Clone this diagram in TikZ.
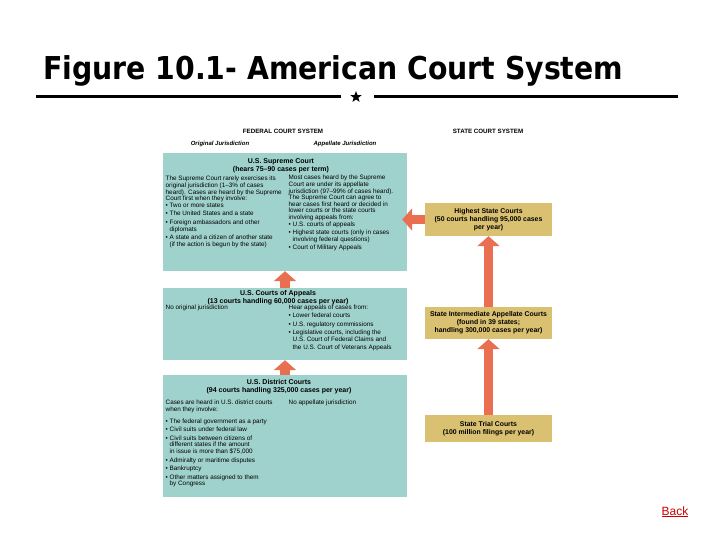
\documentclass[tikz,border=0pt]{standalone}
\usepackage{fontspec}
\setmainfont{Liberation Sans}
\newfontfamily\titlefont{DejaVu Sans}
\usetikzlibrary{arrows.meta,shapes.geometric}
\definecolor{fedteal}{RGB}{160,210,205}
\definecolor{statetan}{RGB}{218,193,113}
\definecolor{arroworange}{RGB}{233,111,80}
\definecolor{backred}{RGB}{204,0,0}
\newcommand\tinyfs{\fontsize{6.35}{6.6}\selectfont}
\newcommand\hdfs{\fontsize{7}{7.8}\selectfont\bfseries}
\newcommand\statefs{\fontsize{6.9}{8}\selectfont\bfseries}
\newcommand\bul{\textbullet\ }
\newcommand\ind{\phantom{\textbullet\ }}
\begin{document}
\begin{tikzpicture}[x=1pt,y=-1pt,
  fedbox/.style={rectangle, fill=fedteal, inner sep=0, minimum width=244pt},
  statebox/.style={rectangle, fill=statetan, inner sep=0, minimum width=127pt, align=center, font=\statefs},
  col/.style={anchor=north west, inner sep=0, align=left, font=\tinyfs},
  ttl/.style={anchor=north, inner sep=0, align=center, font=\hdfs},
  hdr/.style={anchor=base, inner sep=0, font=\fontsize{6.2}{6.5}\selectfont\bfseries},
  subhdr/.style={anchor=base, inner sep=0, font=\fontsize{6}{6.5}\selectfont\bfseries\itshape},
  blockarrow/.style={draw=arroworange, line width=9.5pt, -{Triangle[width=22pt,length=10pt]}},
  rule/.style={line width=3pt}]
\useasboundingbox (0,0) rectangle (720,540);

% title
\node[anchor=base west, inner sep=0] (title) at (43,80)
  {\resizebox{580pt}{\height}{\titlefont\fontsize{31.5}{32}\selectfont\bfseries Figure 10.1- American Court System}};
\node[star, star points=5, star point ratio=2.4, fill=black, inner sep=0, minimum size=12pt] (star) at (356,97) {};
\coordinate (ruleL) at (36,97);
\coordinate (ruleR) at (678,97);
\draw[rule] (ruleL) -- ([xshift=-15pt]star.center);
\draw[rule] ([xshift=18pt]star.center) -- (ruleR);

% headers
\node[hdr] (fedhdr) at (283,134) {FEDERAL COURT SYSTEM};
\node[subhdr] (orighdr) at (220,146) {Original Jurisdiction};
\node[subhdr] (apphdr) at (345,146) {Appellate Jurisdiction};
\node[hdr] (statehdr) at (488,134) {STATE COURT SYSTEM};

% federal boxes
\node[fedbox, minimum height=118pt] (supreme) at (285,212) {};
\node[fedbox, minimum height=72pt] (appeals) at (285,324) {};
\node[fedbox, minimum height=122pt] (district) at (285,436) {};

% supreme court text
\node[ttl] (supT) at (281,158.5) {U.S. Supreme Court\\(hears 75--90 cases per term)};
\node[col] (supL) at (165.5,176) {The Supreme Court rarely exercises its\\
original jurisdiction (1--3\% of cases\\
heard). Cases are heard by the Supreme\\
Court first when they involve:\\
\bul Two or more states\\[2pt]
\bul The United States and a state\\[2pt]
\bul Foreign ambassadors and other\\
\ind diplomats\\[2pt]
\bul A state and a citizen of another state\\
\ind (if the action is begun by the state)};
\node[col] (supR) at (288.5,175) {Most cases heard by the Supreme\\
Court are under its appellate\\
jurisdiction (97--99\% of cases heard).\\
The Supreme Court can agree to\\
hear cases first heard or decided in\\
lower courts or the state courts\\
involving appeals from:\\[0.5pt]
\bul U.S. courts of appeals\\[1.5pt]
\bul Highest state courts (only in cases\\
\ind involving federal questions)\\[1.5pt]
\bul Court of Military Appeals};

% appeals text
\node[ttl] (appT) at (278,290.5) {U.S. Courts of Appeals\\(13 courts handling 60,000 cases per year)};
\node[col] (appL) at (165.5,305) {No original jurisdiction};
\node[col] (appR) at (288.5,305) {Hear appeals of cases from:\\[1.5pt]
\bul Lower federal courts\\[1.5pt]
\bul U.S. regulatory commissions\\[1.5pt]
\bul Legislative courts, including the\\[1pt]
\ind U.S. Court of Federal Claims and\\[1pt]
\ind the U.S. Court of Veterans Appeals};

% district text
\node[ttl] (disT) at (279,379.5) {U.S. District Courts\\(94 courts handling 325,000 cases per year)};
\node[col] (disL) at (165.5,400) {Cases are heard in U.S. district courts\\
when they involve:\\[5pt]
\bul The federal government as a party\\[2pt]
\bul Civil suits under federal law\\[2pt]
\bul Civil suits between citizens of\\
\ind different states if the amount\\
\ind in issue is more than \$75,000\\[2pt]
\bul Admiralty or maritime disputes\\[2pt]
\bul Bankruptcy\\[2pt]
\bul Other matters assigned to them\\
\ind by Congress};
\node[col] (disR) at (288.5,400) {No appellate jurisdiction};

% state boxes
\node[statebox, minimum height=33pt] (highest) at (488.5,219.5) {Highest State Courts\\(50 courts handling 95,000 cases\\per year)};
\node[statebox, minimum height=32pt] (inter) at (488.5,323) {State Intermediate Appellate Courts\\(found in 39 states;\\handling 300,000 cases per year)};
\node[statebox, minimum height=27pt] (trial) at (488.5,428.5) {State Trial Courts\\(100 million filings per year)};

% arrows
\draw[blockarrow] (appeals.north) -- (supreme.south);
\draw[blockarrow] (district.north) -- (appeals.south);
\draw[blockarrow] (trial.north) -- (inter.south);
\draw[blockarrow] (inter.north) -- (highest.south);
\draw[blockarrow] (highest.west) -- ([xshift=-5pt]supreme.east |- highest.west);

% back link
\node[anchor=base, inner sep=0] (back) at (675,515) {\fontsize{12}{12}\selectfont\color{backred}\underline{Back}};
\end{tikzpicture}
\end{document}
